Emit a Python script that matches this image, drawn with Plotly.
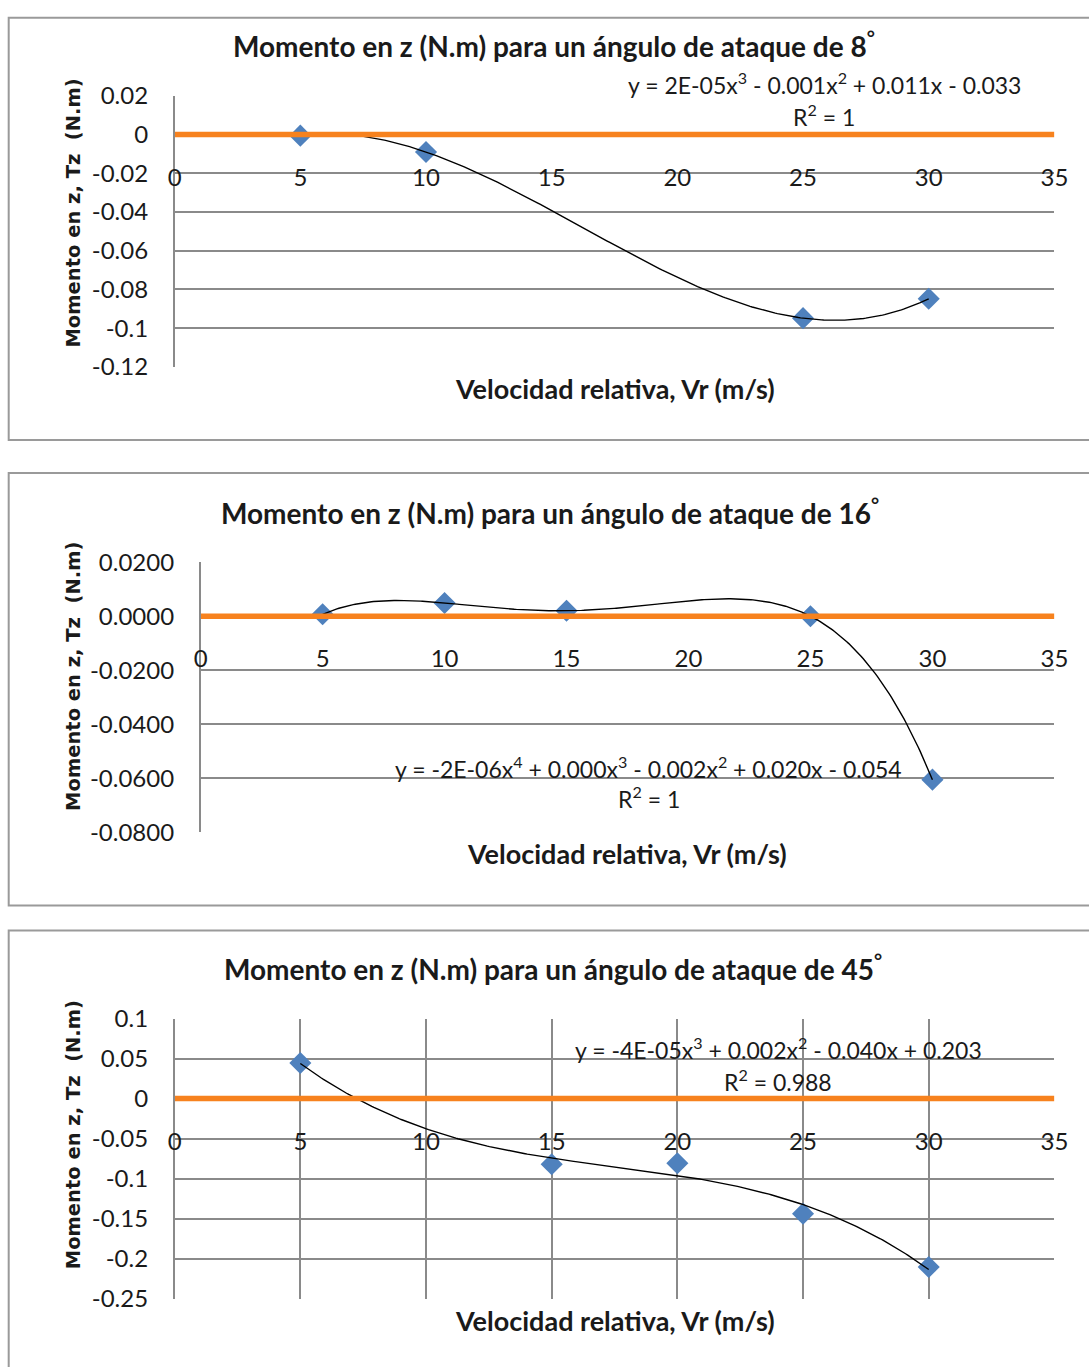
import numpy as np
import plotly.graph_objects as go

W, H = 1089, 1367

# ---------------- data ----------------
vr_8 = [5, 10, 25, 30]
tz_8 = [-0.0006, -0.0090, -0.0948, -0.0848]

vr_16 = [5, 10, 15, 25, 30]
tz_16 = [0.0007, 0.0049, 0.0020, 0.0000, -0.0605]

vr_45 = [5, 15, 20, 25, 30]
tz_45 = [0.0445, -0.0820, -0.0808, -0.1438, -0.2104]

ref_x = [0, 35]
ref_y = [0, 0]

x_ticks = [0, 5, 10, 15, 20, 25, 30, 35]
x_tick_labels = ["0", "5", "10", "15", "20", "25", "30", "35"]

y_ticks_8 = [0.02, 0, -0.02, -0.04, -0.06, -0.08, -0.1, -0.12]
y_labels_8 = ["0.02", "0", "-0.02", "-0.04", "-0.06", "-0.08", "-0.1", "-0.12"]
y_ticks_16 = [0.02, 0, -0.02, -0.04, -0.06, -0.08]
y_labels_16 = ["0.0200", "0.0000", "-0.0200", "-0.0400", "-0.0600", "-0.0800"]
y_ticks_45 = [0.1, 0.05, 0, -0.05, -0.1, -0.15, -0.2, -0.25]
y_labels_45 = ["0.1", "0.05", "0", "-0.05", "-0.1", "-0.15", "-0.2", "-0.25"]

titles = [
    "Momento en z (N.m) para un ángulo de ataque de 8<sup>°</sup>",
    "Momento en z (N.m) para un ángulo de ataque de 16<sup>°</sup>",
    "Momento en z (N.m) para un ángulo de ataque de 45<sup>°</sup>",
]
equations = [
    "y = 2E-05x<sup>3</sup> - 0.001x<sup>2</sup> + 0.011x - 0.033",
    "y = -2E-06x<sup>4</sup> + 0.000x<sup>3</sup> - 0.002x<sup>2</sup> + 0.020x - 0.054",
    "y = -4E-05x<sup>3</sup> + 0.002x<sup>2</sup> - 0.040x + 0.203",
]
r2_labels = ["R<sup>2</sup> = 1", "R<sup>2</sup> = 1", "R<sup>2</sup> = 0.988"]
x_title = "Velocidad relativa, Vr (m/s)"
y_title = "Momento en z, Tz  (N.m)"

# ---------------- styles / layout ----------------
GRID = "#8a8a8a"
ORANGE = "#F7821E"
BLUE = "#4F81BD"
FONT = "Lato"
TEXT = "#1a1a1a"

# compensation for the page-to-screenshot mapping observed in the viewer
AX, BX = 0.981, 6.3
AY, BY = 0.978, 16.3


def fx(t):
    return (t - BX) / AX / W


def fy(t):
    return 1 - (t - BY) / AY / H


charts = [
    dict(x=vr_8, y=tz_8, deg=3, yt=y_ticks_8, yl=y_labels_8, rng=[-0.12, 0.02],
         left=174, right=1054, top=96, bottom=367, vgrid=False,
         title=(553, 45), eq=(824, 84), r2=(824, 116), xt=(614, 389), ytp=(73, 213),
         box=(18, 440)),
    dict(x=vr_16, y=tz_16, deg=4, yt=y_ticks_16, yl=y_labels_16, rng=[-0.08, 0.02],
         left=200, right=1054, top=562, bottom=832, vgrid=False,
         title=(549, 511), eq=(648, 767), r2=(648, 797), xt=(626, 853), ytp=(73, 676),
         box=(473, 905)),
    dict(x=vr_45, y=tz_45, deg=3, yt=y_ticks_45, yl=y_labels_45, rng=[-0.25, 0.1],
         left=174, right=1054, top=1018, bottom=1298, vgrid=True,
         title=(552, 967), eq=(778, 1048), r2=(778, 1080), xt=(614, 1320), ytp=(73, 1134),
         box=(930, 1400)),
]

fig = go.Figure()
annotations = []
shapes = []
layout = {}

for i, c in enumerate(charts):
    n = "" if i == 0 else str(i + 1)
    xa, ya = "x" + n, "y" + n
    # markers
    fig.add_trace(go.Scatter(x=c["x"], y=c["y"], mode="markers", xaxis=xa, yaxis=ya,
                             marker=dict(symbol="diamond", size=17, color=BLUE),
                             showlegend=False))
    # polynomial trendline from the data
    coef = np.polyfit(c["x"], c["y"], c["deg"])
    xs = np.linspace(min(c["x"]), max(c["x"]), 300)
    fig.add_trace(go.Scatter(x=xs, y=np.polyval(coef, xs), mode="lines", xaxis=xa, yaxis=ya,
                             line=dict(color="#000000", width=1.4), showlegend=False))
    # zero reference line
    fig.add_trace(go.Scatter(x=ref_x, y=ref_y, mode="lines", xaxis=xa, yaxis=ya,
                             line=dict(color=ORANGE, width=5.5), showlegend=False))

    lo, hi = c["rng"]
    zero_px = c["top"] + (hi - 0) / (hi - lo) * (c["bottom"] - c["top"])
    layout["xaxis" + n] = dict(
        domain=[fx(c["left"]), fx(c["right"])], range=[0, 35],
        anchor="free", position=fy(zero_px),
        tickvals=x_ticks, ticktext=x_tick_labels, ticks="",
        ticklabelstandoff=26,
        showgrid=c["vgrid"], gridcolor=GRID, gridwidth=1.5,
        showline=False, zeroline=False,
        tickfont=dict(family=FONT, size=24, color=TEXT),
    )
    layout["yaxis" + n] = dict(
        domain=[fy(c["bottom"]), fy(c["top"])], range=[lo, hi],
        anchor=xa, tickvals=c["yt"], ticktext=c["yl"], ticks="",
        ticklabelstandoff=20,
        showgrid=True, gridcolor=GRID, gridwidth=1.5,
        showline=True, linecolor=GRID, linewidth=1.5, zeroline=False,
        tickfont=dict(family=FONT, size=24, color=TEXT),
    )

    def ann(txt, pos, size, bold=False, angle=0, fam=FONT):
        annotations.append(dict(
            text=("<b>%s</b>" % txt) if bold else txt,
            x=fx(pos[0]), y=fy(pos[1]), xref="paper", yref="paper",
            xanchor="center", yanchor="middle", showarrow=False, textangle=angle,
            font=dict(family=fam, size=size, color=TEXT)))

    ann(titles[i], c["title"], 28, bold=True)
    ann(equations[i], c["eq"], 23)
    ann(r2_labels[i], c["r2"], 23)
    ann(x_title, c["xt"], 27, bold=True)
    ann(y_title, c["ytp"], 19.5, bold=True, angle=-90, fam="DejaVu Sans")

    shapes.append(dict(type="rect", xref="paper", yref="paper",
                       x0=fx(8), x1=fx(1110), y0=fy(c["box"][1]), y1=fy(c["box"][0]),
                       line=dict(color="#9a9a9a", width=2), layer="below"))

fig.update_layout(
    width=W, height=H, margin=dict(l=0, r=0, t=0, b=0),
    paper_bgcolor="white", plot_bgcolor="white",
    annotations=annotations, shapes=shapes, showlegend=False,
    **layout,
)

fig.write_html(
    "out.html",
    config={"displayModeBar": False},
    post_script="document.body.style.margin='0';document.body.style.padding='0';"
                "document.documentElement.style.overflow='hidden';",
)
